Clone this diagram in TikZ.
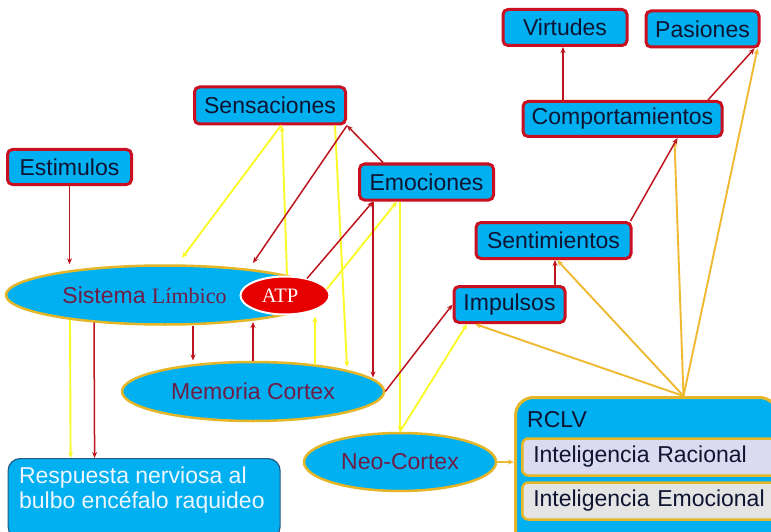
\documentclass[tikz,border=0pt]{standalone}
\usepackage{fontspec}
\setmainfont{Liberation Sans}
\newfontfamily\serifx{Liberation Serif}
\usetikzlibrary{arrows.meta,calc,shapes.geometric}
\definecolor{cyanfill}{RGB}{0,176,240}
\definecolor{boxred}{RGB}{200,16,32}
\definecolor{navytext}{RGB}{15,20,50}
\definecolor{gold}{RGB}{228,182,40}
\definecolor{purpletext}{RGB}{110,30,70}
\definecolor{atpred}{RGB}{232,0,0}
\definecolor{arrred}{RGB}{190,20,30}
\definecolor{arryel}{RGB}{250,250,40}
\definecolor{arror}{RGB}{240,185,50}
\definecolor{respborder}{RGB}{40,90,130}
\definecolor{resptext}{RGB}{238,246,255}
\definecolor{lav}{RGB}{220,218,240}
\definecolor{lgray}{RGB}{228,228,228}
\begin{document}
\begin{tikzpicture}[x=1pt,y=1pt,
  box/.style={draw=boxred, line width=3pt, fill=cyanfill, rounded corners=5pt, inner sep=0pt, text=navytext, font=\fontsize{23}{27}\selectfont},
  oval/.style={ellipse, draw=gold, line width=2.5pt, fill=cyanfill, inner sep=0pt, text=purpletext, font=\fontsize{23}{27}\selectfont},
  inner/.style={draw=gold, line width=2.5pt, rounded corners=6pt, anchor=west, inner xsep=11pt, inner ysep=0pt, text width=241pt, align=left, minimum height=37pt, text=navytext, font=\fontsize{23}{27}\selectfont},
  redarr/.style={draw=arrred, line width=1.5pt, -{Stealth[length=6pt,width=5pt]}},
  yelarr/.style={draw=arryel, line width=1.9pt, -{Stealth[length=6pt,width=5pt]}},
  orarr/.style={draw=arror, line width=1.9pt, -{Stealth[length=6pt,width=5pt]}},
]
\useasboundingbox (0,0) rectangle (771,-532);
\clip (0,0) rectangle (771,-532);
\fill[white] (0,0) rectangle (771,-532);

% boxes
\node[box, minimum width=124, minimum height=36] (virt) at (565,-27.5) {Virtudes};
\node[box, minimum width=113, minimum height=36] (pas) at (702.5,-29) {Pasiones};
\node[box, minimum width=151, minimum height=37] (sens) at (270,-105.5) {Sensaciones};
\node[box, minimum width=199, minimum height=35] (comp) at (622.5,-119) {Comportamientos};
\node[box, minimum width=124, minimum height=35] (est) at (69.5,-167) {Estimulos};
\node[box, minimum width=134, minimum height=36] (emo) at (426.5,-182) {Emociones};
\node[box, minimum width=155, minimum height=36] (sent) at (553.5,-240.5) {Sentimientos};
\node[box, minimum width=111, minimum height=36] (imp) at (509.5,-304.5) {Impulsos};

% ellipses
\node[oval, minimum width=318, minimum height=59] (sis) at (165,-295) {Sistema {\serifx\fontsize{22}{26}\selectfont Límbico}\hspace*{41pt}};
\node[ellipse, fill=atpred, draw=white, line width=2pt, minimum width=89, minimum height=38, inner sep=0pt, text=white, font=\serifx\fontsize{20.5}{24}\selectfont] (atp) at (285,-295.5) {ATP\hspace*{10pt}};
\node[oval, minimum width=262, minimum height=59] (mem) at (253,-391.5) {Memoria Cortex};
\node[oval, minimum width=192, minimum height=58] (neo) at (400,-462) {Neo-Cortex};

% respuesta
\node[draw=respborder, line width=1.2pt, fill=cyanfill, rounded corners=12pt, anchor=north west, inner sep=0pt, text=resptext, font=\fontsize{23}{25}\selectfont] (resp) at (7.5,-458)
  {\parbox[c][80pt][t]{272pt}{\leftskip=11pt\baselineskip=25pt\vspace*{8pt}Respuesta nerviosa al\\bulbo encéfalo raquideo}};

% RCLV container
\node[draw=gold, line width=3pt, fill=cyanfill, rounded corners=18pt, minimum width=262, minimum height=150, anchor=north west, inner sep=0pt] (rclv) at (514,-396) {};
\node[anchor=base west, inner sep=0pt, text=navytext, font=\fontsize{23}{27}\selectfont] (rclvt) at (527,-427) {RCLV};
\node[inner, fill=lav] (rac) at (521,-457) {Inteligencia Racional};
\node[inner, fill=lgray] (emoc) at (521,-501) {Inteligencia Emocional};

% connectors
\draw[redarr] (est.south) -- (est.south |- sis.north);
\draw[yelarr] ([xshift=11]sens.south) -- ([shift={(17,37)}]sis.center);
\draw[yelarr] ([shift={(122,20)}]sis.center) -- ([xshift=12]sens.south);
\draw[yelarr] ([xshift=65]sens.south) -- ([shift={(94,24.5)}]mem.center);
\draw[redarr] ([xshift=-43.5]emo.north) -- (sens.south east);
\draw[redarr] (sens.south east) -- ([shift={(88,32)}]sis.center);
\draw[redarr] ([shift={(22,17)}]atp.center) -- ([xshift=-53.5]emo.south);
\draw[yelarr] ([shift={(42,6.5)}]atp.center) -- ([xshift=-29.5]emo.south);
\draw[redarr] ([xshift=-53.5]emo.south) -- ([shift={(120,14)}]mem.center);
\draw[yelarr] (neo.north |- emo.south) -- (neo.north);
\draw[yelarr] (neo.north) -- ([xshift=-42.5]imp.south);
\draw[redarr] (mem.east) -- (imp.west);
\draw[redarr] ([shift={(28,-31)}]sis.center) -- ([shift={(-60,31)}]mem.center);
\draw[redarr] (mem.north) -- ([shift={(88,-27)}]sis.center);
\draw[yelarr] ([shift={(62,27)}]mem.center) -- ([shift={(30,-21)}]atp.center);
\draw[yelarr] ([shift={(-95,-25)}]sis.center) -- ([xshift=-73.5]resp.north);
\draw[redarr] ([shift={(-71,-27.5)}]sis.center) -- ([xshift=-49.5]resp.north);
\draw[orarr] (neo.east) -- (neo.east -| rclv.west);
\coordinate (rtop) at ([xshift=37]rclv.north);
\draw[orarr] (rtop) -- ([xshift=-34.5]imp.south);
\draw[orarr] (rtop) -- ([xshift=3.5]sent.south);
\draw[orarr] (rtop) -- ([shift={(52,-3)}]comp.south);
\draw[orarr] (rtop) -- ([xshift=-3]pas.south east);
\draw[redarr] ([xshift=45.5]imp.north) -- ([xshift=1.5]sent.south);
\draw[redarr] ([xshift=-2]sent.north east) -- ([xshift=55]comp.south);
\draw[redarr] ([xshift=-59.5]comp.north) -- ([xshift=-2]virt.south);
\draw[redarr] ([xshift=85.5]comp.north) -- ([xshift=-6]pas.south east);
\end{tikzpicture}
\end{document}
